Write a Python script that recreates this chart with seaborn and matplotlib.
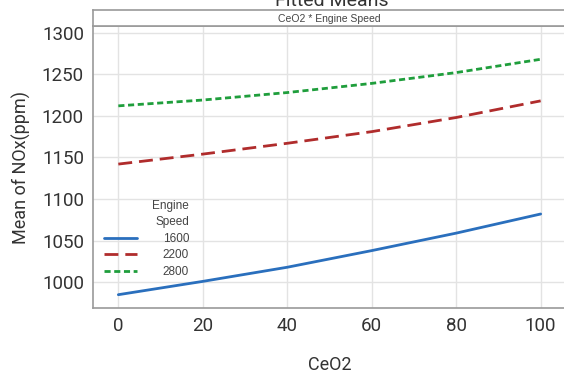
import matplotlib
matplotlib.use("Agg")
import matplotlib.pyplot as plt
import seaborn as sns
import pandas as pd

ceo2 = [0, 20, 40, 60, 80, 100]
nox_1600 = [985, 1001, 1018, 1038, 1059, 1082]
nox_2200 = [1142, 1154, 1167, 1181, 1198, 1218]
nox_2800 = [1212, 1219, 1228, 1239, 1252, 1268]
speeds = ["1600", "2200", "2800"]

rows = []
for sp, vals in zip(speeds, [nox_1600, nox_2200, nox_2800]):
    for x, y in zip(ceo2, vals):
        rows.append({"CeO2": x, "NOx": y, "Engine Speed": sp})
df = pd.DataFrame(rows)

sns.set_theme(style="whitegrid")
plt.rcParams["font.family"] = ["Roboto", "DejaVu Sans"]

W, H = 564, 377
fig = plt.figure(figsize=(W / 100, H / 100), dpi=100)
ax = fig.add_axes([93 / W, 1 - 308 / H, (566 - 93) / W, (308 - 26) / H])

palette = {"1600": "#2a6fbd", "2200": "#b02c2c", "2800": "#1f9e3c"}
dashes = {"1600": "", "2200": (5, 2.5), "2800": (2.2, 1.3)}
sns.lineplot(data=df, x="CeO2", y="NOx", hue="Engine Speed", style="Engine Speed",
             palette=palette, dashes=dashes, linewidth=2, ax=ax, legend=False)

ax.set_xlim(-6, 106)
ax.set_ylim(969, 1308)
ax.set_xticks([0, 20, 40, 60, 80, 100])
ax.set_yticks([1000, 1050, 1100, 1150, 1200, 1250, 1300])
ax.tick_params(labelsize=13.5, colors="#333333", length=3, width=0.8)
ax.tick_params(axis="both", labelcolor="#333333")
ax.grid(color="#e3e3e3", linewidth=1)
for s in ["left", "bottom", "right", "top"]:
    ax.spines[s].set_color("#9a9a9a")
    ax.spines[s].set_linewidth(1.2)
ax.set_xlabel("CeO2", fontsize=13, color="#333333", labelpad=15)
ax.set_ylabel("Mean of NOx(ppm)", fontsize=13, color="#333333", labelpad=8)

# legend
from matplotlib.lines import Line2D
handles = [Line2D([], [], color=palette[s], linewidth=2,
                  linestyle=("-" if dashes[s] == "" else (0, dashes[s]))) for s in speeds]
leg = ax.legend(handles, speeds, title="Engine\nSpeed", loc="lower left",
                bbox_to_anchor=(0.0, 0.07), frameon=False, fontsize=8.5,
                title_fontsize=8.5, handlelength=2.8, handletextpad=2.2,
                labelspacing=0.38, alignment="right")
for t in leg.get_texts():
    t.set_color("#444444")
    t.set_family(["Liberation Sans", "DejaVu Sans"])
leg.get_title().set_color("#444444")
leg.get_title().set_family(["Liberation Sans", "DejaVu Sans"])
leg.get_title().set_multialignment("right")
leg.get_title().set_linespacing(1.5)

# header strip
hx = fig.add_axes([93 / W, 1 - 26 / H, (566 - 93) / W, 16 / H])
hx.set_xticks([]); hx.set_yticks([])
hx.set_facecolor("white")
for s in hx.spines.values():
    s.set_color("#9a9a9a")
    s.set_linewidth(1.2)
hx.text(0.5, 0.45, "CeO2 * Engine Speed", ha="center", va="center",
        fontsize=7.5, color="#444444", family=["Liberation Sans", "DejaVu Sans"])

fig.text(332 / W, 1 - 1 / H, "Fitted Means", ha="center", va="center",
         fontsize=14, color="#333333")

fig.savefig("out.png", dpi=100)
